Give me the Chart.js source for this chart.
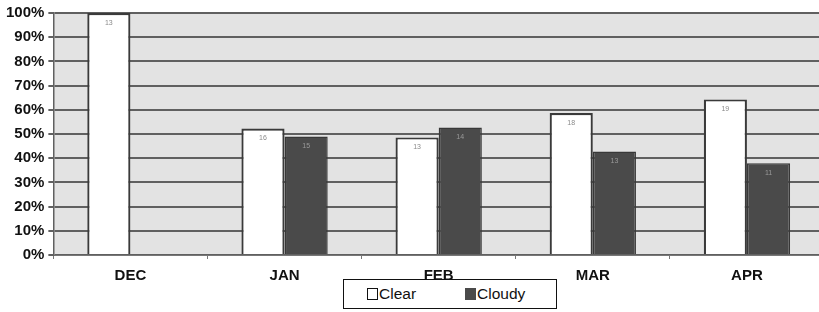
<!DOCTYPE html>
<html>
<head>
<meta charset="utf-8">
<script src="https://cdn.jsdelivr.net/npm/chart.js@4"></script>
<style>
  html, body { margin: 0; padding: 0; background: #fff; overflow: hidden; }
  #wrap { position: relative; width: 824px; height: 312px; }
  #legend { position: absolute; left: 343px; top: 279px; width: 212px; height: 28px;
    border: 1.5px solid #111; background: #fff; font: 15.5px "Liberation Sans", Arial, sans-serif;
    color: #111; }
  .item { display: flex; align-items: center; position: absolute; top: 5px; }
  .sw { width: 9px; height: 10px; border: 1.5px solid #111; margin-right: 1px; }
</style>
</head>
<body>
<div id="wrap">
  <canvas id="c" width="824" height="312"></canvas>
  <div id="legend"></div>
</div>
<script>
const categories = ["DEC", "JAN", "FEB", "MAR", "APR"];
const clearPct = [100, 52.3, 48.6, 58.7, 64.3];
const cloudyPct = [0, 49.0, 52.7, 42.8, 37.9];
const clearCounts = [13, 16, 13, 18, 19];
const cloudyCounts = [null, 15, 14, 13, 11];
const yTicks = [0, 10, 20, 30, 40, 50, 60, 70, 80, 90, 100];
const seriesNames = ["Clear", "Cloudy"];

const plotBg = {
  id: 'plotBg',
  beforeDraw(chart) {
    const {ctx, chartArea: a} = chart;
    ctx.save();
    ctx.fillStyle = '#e3e3e3';
    ctx.fillRect(a.left, a.top, a.right - a.left, a.bottom - a.top);
    ctx.restore();
  }
};

const countLabels = {
  id: 'countLabels',
  afterDatasetsDraw(chart) {
    const {ctx} = chart;
    const counts = [clearCounts, cloudyCounts];
    ctx.save();
    ctx.font = '7px "Liberation Sans", Arial, sans-serif';
    ctx.textAlign = 'center';
    ctx.textBaseline = 'middle';
    chart.data.datasets.forEach((ds, di) => {
      chart.getDatasetMeta(di).data.forEach((bar, i) => {
        const v = counts[di][i];
        if (v == null) return;
        ctx.fillStyle = di === 0 ? '#8a8a8a' : '#9a9a9a';
        ctx.fillText(String(v), bar.x, bar.y + 10);
      });
    });
    ctx.restore();
  }
};

const chart = new Chart(document.getElementById('c'), {
  type: 'bar',
  data: {
    labels: categories,
    datasets: [
      { label: seriesNames[0], data: clearPct, backgroundColor: '#ffffff', borderColor: '#3a3a3a', borderWidth: 2.2 },
      { label: seriesNames[1], data: cloudyPct, backgroundColor: '#4a4a4a', borderColor: '#383838', borderWidth: 1.5 }
    ]
  },
  options: {
    responsive: false,
    animation: false,
    devicePixelRatio: 1,
    categoryPercentage: 0.56,
    barPercentage: 1.0,
    layout: { padding: { top: 9, right: 0, bottom: 19, left: 2 } },
    plugins: { legend: { display: false }, tooltip: { enabled: false } },
    scales: {
      x: {
        grid: { display: true, drawOnChartArea: false, drawTicks: true, tickLength: 4, color: '#777', offset: true },
        border: { display: true, color: '#777', width: 1 },
        ticks: { color: '#111', padding: 8, font: { family: '"Liberation Sans", Arial, sans-serif', size: 15, weight: 'bold' } }
      },
      y: {
        min: 0, max: 100,
        afterBuildTicks(scale) { scale.ticks = yTicks.map(v => ({ value: v })); },
        grid: { color: '#606060', lineWidth: 2, tickLength: 5 },
        border: { display: true, color: '#606060', width: 1.5 },
        ticks: {
          color: '#111', padding: 4,
          font: { family: '"Liberation Sans", Arial, sans-serif', size: 15, weight: 'bold' },
          callback: v => v + '%'
        }
      }
    }
  },
  plugins: [plotBg, countLabels]
});

// HTML legend built from dataset names/colours
const lg = document.getElementById('legend');
const lpos = [23, 121];
chart.data.datasets.forEach((ds, i) => {
  const it = document.createElement('div');
  it.className = 'item';
  it.style.left = lpos[i] + 'px';
  const sw = document.createElement('span');
  sw.className = 'sw';
  sw.style.background = ds.backgroundColor;
  if (i === 1) sw.style.borderColor = ds.backgroundColor;
  const tx = document.createElement('span');
  tx.textContent = ds.label;
  it.appendChild(sw); it.appendChild(tx);
  lg.appendChild(it);
});
</script>
</body>
</html>
